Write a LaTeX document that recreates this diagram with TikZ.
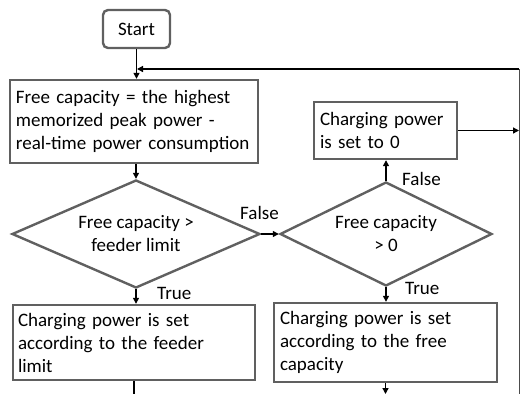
\documentclass[tikz,border=0pt]{standalone}
\usepackage{fontspec}
\setmainfont{Carlito}
\usetikzlibrary{shapes.geometric,arrows.meta}
\definecolor{bordergray}{HTML}{606060}
\tikzset{
  box/.style={draw=bordergray, line width=2.4pt, rectangle, align=left, inner sep=0pt, anchor=center,
    font=\fontsize{19}{23}\selectfont},
  startbox/.style={draw=bordergray, line width=2.4pt, rounded corners=5pt, inner sep=0pt,
    font=\fontsize{19}{23}\selectfont},
  dia/.style={draw=bordergray, line width=2.4pt, diamond, aspect=2.3, inner sep=0pt, align=center,
    font=\fontsize{19}{23}\selectfont},
  conn/.style={draw=black, line width=1.3pt, -{Triangle[length=6pt,width=6pt]}},
  plain/.style={draw=black, line width=1.3pt},
  lbl/.style={font=\fontsize{19}{22}\selectfont, inner sep=0pt}
}
\begin{document}
\begin{tikzpicture}[x=1pt,y=-1pt]
\useasboundingbox (0,0) rectangle (520,394);
\node[startbox, minimum width=67pt, minimum height=38pt] (start) at (136.5,29) {Start};
\node[box, minimum width=248pt, minimum height=83pt, text width=236pt] (calc) at (134,121.5)
  {Free capacity = the highest\\memorized peak power -\\real-time power consumption};
\node[dia, minimum width=248pt, minimum height=108pt] (d1) at (136,234) {Free capacity >\\feeder limit};
\node[dia, minimum width=212pt, minimum height=104pt] (d2) at (386,234) {Free capacity\\> 0};
\node[box, minimum width=143pt, minimum height=57pt, text width=131pt] (zero) at (385.5,130.5)
  {Charging power\\is set to 0};
\node[box, minimum width=242pt, minimum height=75pt, text width=232pt] (feeder) at (134,342.5)
  {Charging power is set\\according to the feeder\\limit};
\node[box, minimum width=223pt, minimum height=79pt, text width=211pt] (free) at (385.5,342.5)
  {Charging power is set\\according to the free\\capacity};
\coordinate (rtop) at (519,69);
\coordinate (rbot) at (519,394);
\coordinate (join) at (136,69);
\coordinate (fend) at (134,394);
\coordinate (rend) at (385.5,394);
\draw[conn] (start.south) -- (calc.north -| start.south);
\draw[conn] (rtop) -- ([xshift=1pt]join);
\draw[draw=black!70, line width=1pt] (rtop) -- (rbot);
\draw[conn] (calc.south -| d1.north) -- (d1.north);
\draw[conn] (d1.east) -- (d2.west);
\draw[conn] (d1.south) -- (d1.south |- feeder.north);
\draw[conn] (d2.north) -- (d2.north |- zero.south);
\draw[conn] (d2.south) -- (d2.south |- free.north);
\draw[conn] (zero.east) -- (zero.east -| rtop);
\draw[plain] (feeder.south) -- (fend);
\draw[conn] (free.south) -- (rend);
\node[lbl, anchor=west] (lf1) at (240,213) {False};
\node[lbl, anchor=west] (lt1) at (157,293) {True};
\node[lbl, anchor=west] (lf2) at (402,179) {False};
\node[lbl, anchor=west] (lt2) at (405,288) {True};
\end{tikzpicture}
\end{document}
